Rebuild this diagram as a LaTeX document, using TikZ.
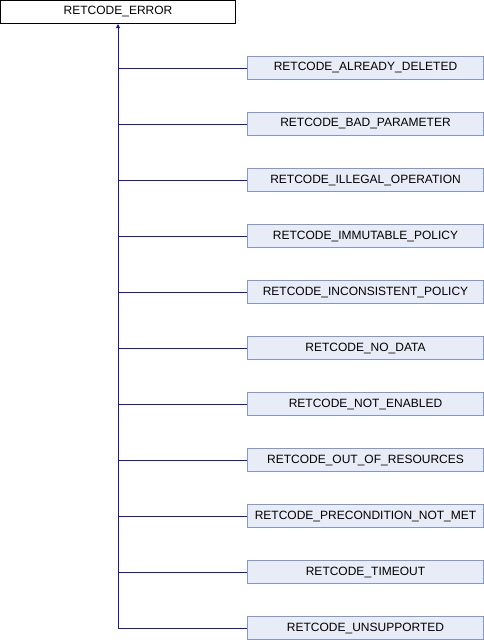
\documentclass[tikz,border=0pt]{standalone}
\usepackage{fontspec}
\setmainfont{Liberation Sans}
\usepackage{xcolor}
\usepackage{tikz}
\usetikzlibrary{positioning,arrows.meta}
\definecolor{retEdge}{HTML}{1A1AA0}
\definecolor{retFill}{HTML}{E8ECF6}
\definecolor{retBorder}{HTML}{8497C8}

\begin{document}
\begin{tikzpicture}[node distance=32pt, x=1pt, y=1pt,
  base/.style={rectangle, draw=black, fill=white, line width=1pt, minimum width=235pt, minimum height=23pt, inner sep=0pt, font=\fontsize{12}{14}\selectfont},
  derived/.style={rectangle, draw=retBorder, fill=retFill, line width=1pt, minimum width=236pt, minimum height=23pt, inner sep=0pt, font=\fontsize{12}{14}\selectfont},
  link/.style={draw=retEdge, line width=1pt}]
\useasboundingbox (0,0) rectangle (484,-640);
\node[base] (error) at (118,-12) {RETCODE\_ERROR};
\node[derived] (deleted) at (365.5,-68) {RETCODE\_ALREADY\_DELETED};
\node[derived] (badparam) [below=of deleted] {RETCODE\_BAD\_PARAMETER};
\node[derived] (illegal) [below=of badparam] {RETCODE\_ILLEGAL\_OPERATION};
\node[derived] (immutable) [below=of illegal] {RETCODE\_IMMUTABLE\_POLICY};
\node[derived] (inconsistent) [below=of immutable] {RETCODE\_INCONSISTENT\_POLICY};
\node[derived] (nodata) [below=of inconsistent] {RETCODE\_NO\_DATA};
\node[derived] (notenabled) [below=of nodata] {RETCODE\_NOT\_ENABLED};
\node[derived] (resources) [below=of notenabled] {RETCODE\_OUT\_OF\_RESOURCES};
\node[derived] (precond) [below=of resources] {RETCODE\_PRECONDITION\_NOT\_MET};
\node[derived] (timeout) [below=of precond] {RETCODE\_TIMEOUT};
\node[derived] (unsupported) [below=of timeout] {RETCODE\_UNSUPPORTED};
\draw[link, {Triangle[width=4pt,length=4pt]}-] (error.south) |- (unsupported.west);
\draw[link] (deleted.west) -- (deleted.west -| error.south);
\draw[link] (badparam.west) -- (badparam.west -| error.south);
\draw[link] (illegal.west) -- (illegal.west -| error.south);
\draw[link] (immutable.west) -- (immutable.west -| error.south);
\draw[link] (inconsistent.west) -- (inconsistent.west -| error.south);
\draw[link] (nodata.west) -- (nodata.west -| error.south);
\draw[link] (notenabled.west) -- (notenabled.west -| error.south);
\draw[link] (resources.west) -- (resources.west -| error.south);
\draw[link] (precond.west) -- (precond.west -| error.south);
\draw[link] (timeout.west) -- (timeout.west -| error.south);
\end{tikzpicture}
\end{document}
